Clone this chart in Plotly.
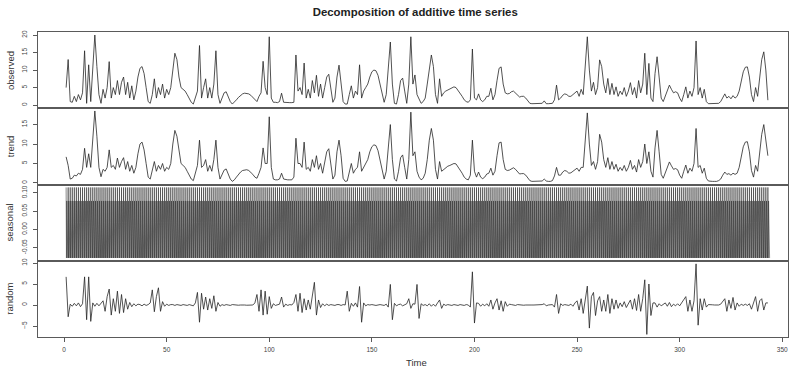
import plotly.graph_objects as go
from plotly.subplots import make_subplots

observed = [
    5, 13, 1, 0.8, 2.5, 1, 3, 1.5, 3.5, 15.5,
    0.5, 11.5, 1, 12, 20, 11, 3, 0.5, 4.5, 2,
    5, 12.4, 2, 5, 3, 7, 3, 6.5, 8, 3,
    6.5, 2, 5.5, 1.5, 4, 8, 10.5, 11, 9, 5,
    1, 0.5, 3, 7.5, 2, 5, 3, 6, 2, 4.5,
    3, 5, 11, 14.8, 13, 8, 5, 4.5, 4, 3,
    2, 0.8, 0.3, 2.5, 4, 17, 2, 5, 7.5, 2,
    5, 2, 6, 15.5, 3, 0.5, 2, 3.5, 3.8, 2.5,
    1, 0.3, 0.8, 1.5, 2.2, 2.8, 3.2, 3.4, 3.4, 3.2,
    2.8, 2.2, 1.5, 1, 2.5, 3.5, 12.5, 5, 3, 19.5,
    2, 0.8, 0.8, 0.7, 1, 3.4, 0.8, 0.7, 0.7, 0.7,
    0.7, 0.8, 14.3, 4, 5, 3, 12, 2, 4.5, 2,
    7, 3.5, 8.5, 2.5, 6, 2, 5, 8, 8.8, 5,
    0.8, 2, 8, 11.4, 7, 1, 0.3, 0.3, 3, 5.5,
    2, 4, 3, 11.5, 2, 4, 5, 6, 8, 9.5,
    10, 9.8, 8.5, 6, 3, 0.8, 3, 10, 18, 6,
    0.5, 0.3, 3, 7, 7.7, 4, 0.5, 6, 19.5, 6,
    8.6, 3, 1.5, 0.5, 1, 2, 6, 11, 14.3, 11,
    3, 0.5, 7.5, 2.5, 3.5, 4, 4.3, 4.5, 4.8, 5.2,
    5, 4.2, 3.5, 2.5, 1.5, 1, 0.8, 1.5, 16, 2,
    1.5, 3.2, 1.5, 1, 1.5, 2.5, 2.5, 4.8, 1.5, 3,
    7, 10.5, 10.9, 6, 3.5, 3.2, 3.3, 3.8, 4, 3.5,
    2.8, 2.3, 2.5, 2.5, 2, 1.2, 0.5, 0.4, 0.4, 0.4,
    0.4, 0.4, 0.5, 1.2, 0.4, 0.4, 0.4, 0.5, 1.5, 5.7,
    1.5, 2, 2.8, 3.2, 3, 2.5, 2.5, 3, 3.5, 4,
    2.5, 4.5, 3, 12, 19.5, 10, 4, 6.5, 3, 5,
    12.9, 11, 6, 3.5, 7.6, 3, 6.2, 3, 5.2, 2.5,
    4, 3, 5, 2.5, 4, 6.4, 3, 5, 2, 7,
    3.5, 6, 14.8, 3, 11.9, 2, 1, 9, 13.8, 8,
    2, 1, 2.5, 4.5, 5.7, 4.5, 3.5, 3.8, 3.5, 2,
    1, 3, 5.2, 2, 4, 2.5, 5, 18.3, 3, 5,
    2, 4.5, 1, 0.4, 0.4, 0.4, 0.4, 0.4, 0.5, 1,
    2, 3.2, 2, 2.5, 1.8, 2.7, 2, 2.5, 4, 7,
    9.5, 10.8, 10.9, 8, 3, 1, 5, 2.5, 8, 13,
    15.2, 10, 1.4,
]

trend = [
    6.7, 4.5, 1, 1.2, 2, 1.8, 2.5, 2.2, 3.5, 8.9,
    4, 7.5, 4, 11, 18.5, 12, 4, 1.6, 3.5, 3,
    4, 8.5, 4, 4.5, 3.5, 6.4, 4, 5.5, 6.5, 3.5,
    5.5, 3, 4.5, 2.5, 4, 7.5, 10, 10.5, 8.5, 5,
    1.5, 1, 3, 5.5, 3, 4.5, 3.5, 5, 3, 4,
    3.5, 5, 10, 13.5, 12, 8, 5, 4.5, 4, 3,
    2, 1, 0.6, 2.5, 4.5, 11, 4, 4.5, 6, 3,
    4.5, 3, 6, 11, 4, 1, 2, 3.3, 3.6, 2.5,
    1, 0.4, 0.8, 1.5, 2.2, 2.8, 3.2, 3.4, 3.4, 3.2,
    2.8, 2.2, 1.5, 1.2, 2.5, 4, 9, 5, 5, 17,
    4, 1, 0.8, 0.8, 1, 2.5, 1, 0.8, 0.8, 0.8,
    0.8, 1.5, 11.5, 5, 5, 4, 10.5, 3.5, 4, 3,
    6, 4, 7, 3.5, 5, 2.5, 5, 8, 8.8, 5,
    1, 2, 8, 11, 7, 1.2, 0.4, 0.5, 3, 5,
    2.5, 3.5, 4, 8, 3, 4, 5, 6, 8, 9.3,
    9.8, 9.6, 8.3, 6, 3, 1, 3, 9, 15, 6,
    1, 0.5, 3, 6.5, 7.2, 4, 1, 6, 18.2, 7,
    8, 3, 1.5, 0.8, 1.2, 2.5, 6, 11, 14, 11,
    3.5, 1, 5.5, 3, 3.5, 4, 4.3, 4.5, 4.8, 5,
    4.9, 4.2, 3.5, 2.5, 1.5, 1, 0.8, 2, 11, 3,
    1.5, 2.8, 1.5, 1.1, 1.5, 2.3, 2.5, 3.8, 2, 3,
    7, 10.3, 10.5, 6, 3.5, 3.2, 3.3, 3.7, 3.9, 3.5,
    2.8, 2.3, 2.4, 2.4, 2, 1.2, 0.6, 0.4, 0.4, 0.4,
    0.4, 0.4, 0.5, 1, 0.5, 0.4, 0.4, 0.6, 1.8, 4,
    2, 2, 2.8, 3.2, 3, 2.5, 2.6, 3, 3.5, 3.8,
    3, 4, 4, 12, 18, 10, 4.5, 5.5, 3.5, 5.5,
    12.5, 10.5, 6, 4, 6.5, 3.5, 5.5, 3.5, 4.8, 3,
    4, 3.2, 4.5, 3, 4, 5.8, 3.5, 4.5, 2.8, 6,
    4, 5.5, 10, 5, 8, 3, 1.5, 9, 13.5, 8,
    2.2, 1.2, 2.5, 4.3, 5.4, 4.4, 3.5, 3.7, 3.4, 2,
    1.2, 3, 4.6, 2.5, 3.8, 3, 5, 14, 4, 4.5,
    2.5, 3.8, 1.2, 0.5, 0.4, 0.4, 0.4, 0.4, 0.6, 1,
    2, 2.8, 2.2, 2.4, 2, 2.5, 2.2, 2.5, 4, 7,
    9.3, 10.5, 10.6, 8, 3.2, 1.5, 4.5, 3, 8, 12.5,
    15, 11, 7,
]

random_component = [
    6.7, -2.8, 0.2, -0.3, 0.4, -0.2, 0.5, -0.4, 0.3, 6.7,
    -3.5, 6.7, -3.9, 0.5, -0.3, 0.4, -0.2, 0.3, 1, -1.5,
    2, 3.8, -2.4, 1.5, -1.5, 3.3, -2, 2.5, -1.8, 1.5,
    -1, 0.6, -0.4, 0.3, -0.2, 0.2, 0.1, -0.2, 0.2, -0.1,
    0.1, 0.5, 3.6, -1.6, 2, 4.1, -1.5, 0.8, -0.3, 0.2,
    -0.1, 0.1, 0.1, -0.1, 0.1, 0, -0.1, 0.1, 0, -0.1,
    0.1, 0, -0.2, 0.5, 3, -4.1, 2.8, -1, 1.9, -1.2,
    1.5, -0.8, 2.2, -1.5, 0.6, -0.3, 0.1, -0.1, 0.1, 0,
    -0.1, 0.1, 0, 0.05, -0.05, 0, 0.05, 0, -0.05, 0,
    0.05, 0, 0.5, 2.5, -1.5, 3.6, -2.4, 3.3, -2.2, 2,
    -0.8, 0.3, -0.1, 0.1, 0.2, 1.9, -0.5, 0.2, -0.1, 0.1,
    0, 0.6, 2.5, -1.5, 2.8, -1.8, 1.5, -1.2, 1.2, -1,
    2, 5.4, -2.4, 1.2, -0.6, 0.3, -0.2, 0.2, -0.1, 0.1,
    0, -0.1, 0.1, 0.1, -0.1, 0.1, 0, 3.3, -1.5, 0.4,
    -0.3, 0.5, -0.5, 4.4, -4.1, 0.5, -0.2, 0.1, 0, 0.1,
    0, -0.1, 0, 0.1, 0, -0.1, 0.2, -0.5, 4.9, -3.5,
    0.4, -0.2, 0.1, 0.2, -0.2, 0.1, 0.3, 1.5, -0.8, 0.3,
    0.2, 4.9, -3.2, 0.3, -0.1, 0.1, -0.2, 0.3, -0.3, 0.2,
    -0.3, 0.5, 1.2, -0.8, 0.2, -0.1, 0.1, 0, -0.1, 0.1,
    0, -0.1, 0.1, 0, -0.1, 0.1, 0, -0.5, 7.9, -4.3,
    0.5, 0.4, -0.3, 0.2, -0.2, 0.3, -0.3, 1.2, -1, 0.5,
    1.5, -1.2, 1, -1.5, 0.8, -0.3, 0.2, 0.1, 0, -0.1,
    0.1, 0, 0.05, -0.05, 0, 0.05, 0, 0, 0, 0,
    0, 0, 0.1, 0.3, -0.2, 0, 0, 0.1, -0.5, 2.5,
    -2, 0.3, -0.1, 0.1, 0, -0.1, 0.2, -0.3, 0.5, 1,
    -1.2, 1.5, -2, 1, 4.5, -5.5, 2, 3, -2.5, 1,
    2, -1.5, 1.2, -1.5, 2.5, -2, 1.5, -1, 1.2, -0.8,
    0.5, -0.4, 0.8, -0.6, 0.4, 1.2, -1, 1.5, -1.3, 2.5,
    -1.5, 1.5, 6, -7, 5, -2.5, 0.5, 0.5, -0.5, 0.3,
    -0.2, 0.1, 0.5, -0.3, 0.6, -0.4, 0.2, -0.2, 0.3, -0.2,
    0.5, 1, 2, -1.5, 1.2, -1.5, 1, 9.8, -4.8, 1.5,
    -1.2, 1.5, -0.5, 0.1, 0, 0.05, 0, -0.05, 0, 0.2,
    0.8, 1.5, -1.5, 1.2, -0.8, 1.8, -1.2, 0.5, -0.3, 0.2,
    -0.1, 0.2, -0.1, 0.3, -1, 0.5, 2, -1.5, 1, 1.5,
    -1.2, 0.5, 0.5,
]

# one seasonal cycle (values per time unit)
seasonal_pattern = [0.115, -0.078, 0.078, 0.02, -0.01, -0.078]
n_periods = 343

panel_names = ["observed", "trend", "seasonal", "random"]
x_ticks = [0, 50, 100, 150, 200, 250, 300, 350]
y_ticks = {
    "observed": [0, 5, 10, 15, 20],
    "trend": [0, 5, 10, 15],
    "seasonal": [-0.05, 0.0, 0.05, 0.10],
    "random": [-5, 0, 5, 10],
}
y_tick_text = {"seasonal": ["-0.05", "0.00", "0.05", "0.10"]}
y_ranges = {
    "observed": [-0.9, 20.86],
    "trend": [-0.4, 19.2],
    "seasonal": [-0.0856, 0.123],
    "random": [-7.62, 10.54],
}

freq = len(seasonal_pattern)
seasonal = seasonal_pattern * n_periods
seasonal_time = [1 + i / freq for i in range(len(seasonal))]

series = {
    "observed": (list(range(1, len(observed) + 1)), observed),
    "trend": (list(range(1, len(trend) + 1)), trend),
    "seasonal": (seasonal_time, seasonal),
    "random": (list(range(1, len(random_component) + 1)), random_component),
}

FONT = "Liberation Sans, Arial, sans-serif"
LINE = "#262626"
AXIS = "#5a5a5a"

fig = make_subplots(rows=4, cols=1, shared_xaxes=True, vertical_spacing=0)

for i, name in enumerate(panel_names, start=1):
    xs, ys = series[name]
    fig.add_trace(
        go.Scatter(x=xs, y=ys, mode="lines",
                   line=dict(color=LINE, width=0.55 if name == "seasonal" else 0.8),
                   showlegend=False, hoverinfo="skip"),
        row=i, col=1,
    )
    fig.update_yaxes(
        range=y_ranges[name], tickvals=y_ticks[name],
        ticktext=y_tick_text.get(name), tickangle=-90,
        ticks="outside", ticklen=4, tickcolor=AXIS, tickwidth=1,
        tickfont=dict(size=6.5, color="#444", family=FONT),
        ticklabelstandoff=3,
        showgrid=False, zeroline=False,
        showline=True, mirror=True, linecolor=AXIS, linewidth=1,
        row=i, col=1,
    )
    fig.update_xaxes(
        range=[-12.7, 352.8], showgrid=False, zeroline=False,
        showline=True, mirror=True, linecolor=AXIS, linewidth=1,
        row=i, col=1,
    )
    dom = fig.layout["yaxis" if i == 1 else f"yaxis{i}"].domain
    fig.add_annotation(
        text=name, xref="paper", yref="paper",
        x=-0.0375, y=(dom[0] + dom[1]) / 2,
        xanchor="center", yanchor="middle", textangle=-90, showarrow=False,
        font=dict(size=9.5, color="#333", family=FONT),
    )

fig.update_xaxes(showticklabels=False, ticks="", row=1, col=1)
fig.update_xaxes(showticklabels=False, ticks="", row=2, col=1)
fig.update_xaxes(showticklabels=False, ticks="", row=3, col=1)
fig.update_xaxes(
    tickvals=x_ticks, ticks="outside", ticklen=4, tickcolor=AXIS,
    tickfont=dict(size=6.5, color="#444", family=FONT), showticklabels=True,
    ticklabelstandoff=2,
    row=4, col=1,
)

fig.add_annotation(
    text="Time", xref="paper", yref="paper", x=0.504, y=-0.082,
    xanchor="center", yanchor="middle", showarrow=False,
    font=dict(size=9.5, color="#333", family=FONT),
)

fig.update_layout(
    width=789, height=369,
    margin=dict(l=38, r=1, t=32, b=32),
    paper_bgcolor="white", plot_bgcolor="white",
    title=dict(text="<b>Decomposition of additive time series</b>",
               x=0.503, xref="paper", xanchor="center",
               y=1 - 12 / 369, yref="container", yanchor="middle",
               font=dict(size=11.4, color="#222", family=FONT)),
    font=dict(family=FONT),
)

fig.write_html("out.html")
